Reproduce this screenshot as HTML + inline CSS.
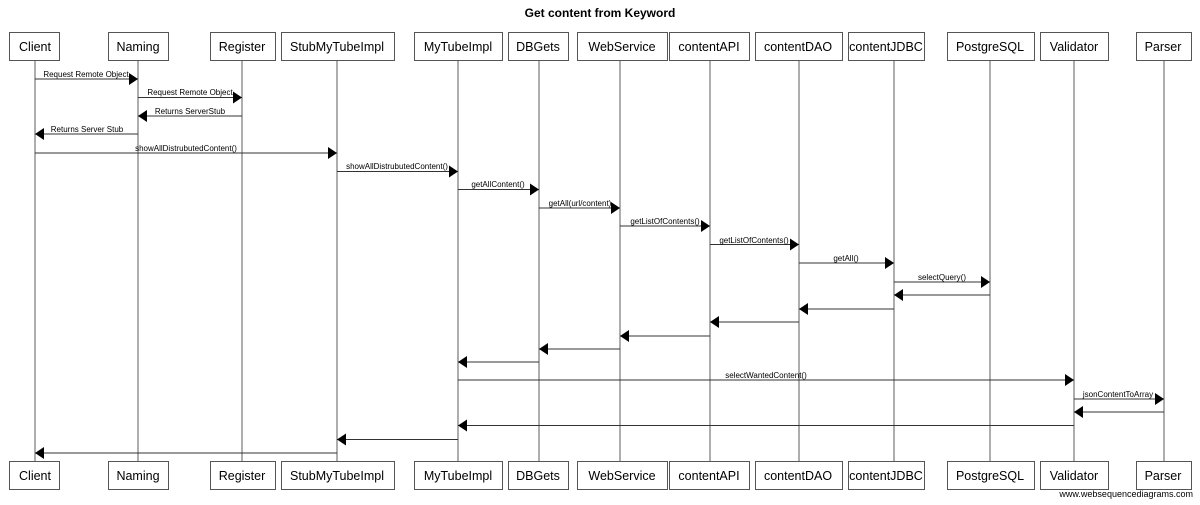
<!DOCTYPE html>
<html><head><meta charset="utf-8"><style>
html,body{margin:0;padding:0;background:#fff;}
svg{display:block;font-family:"Liberation Sans",Arial,sans-serif;}
</style></head><body>
<svg width="1200" height="505" viewBox="0 0 1200 505" xmlns="http://www.w3.org/2000/svg">
<defs>
<marker id="a" markerWidth="10" markerHeight="12" refX="9" refY="6" orient="auto" markerUnits="userSpaceOnUse">
<path d="M0,0 L9,6 L0,12 Z" fill="#000"/></marker>
</defs>
<text x="600" y="17" font-size="12" font-weight="bold" text-anchor="middle">Get content from Keyword</text>
<g stroke="#777" stroke-width="1.2">
<line x1="35" y1="60" x2="35" y2="461"/>
<line x1="138" y1="60" x2="138" y2="461"/>
<line x1="242" y1="60" x2="242" y2="461"/>
<line x1="337" y1="60" x2="337" y2="461"/>
<line x1="458" y1="60" x2="458" y2="461"/>
<line x1="539" y1="60" x2="539" y2="461"/>
<line x1="620" y1="60" x2="620" y2="461"/>
<line x1="710" y1="60" x2="710" y2="461"/>
<line x1="799" y1="60" x2="799" y2="461"/>
<line x1="894" y1="60" x2="894" y2="461"/>
<line x1="990" y1="60" x2="990" y2="461"/>
<line x1="1074" y1="60" x2="1074" y2="461"/>
<line x1="1164" y1="60" x2="1164" y2="461"/>
</g>
<g fill="#fff" stroke="#555" stroke-width="1">
<rect x="9.5" y="32.5" width="50" height="28"/><rect x="108.5" y="32.5" width="60" height="28"/>
<rect x="210.5" y="32.5" width="65" height="28"/><rect x="281.5" y="32.5" width="113" height="28"/>
<rect x="414.5" y="32.5" width="88" height="28"/><rect x="508.5" y="32.5" width="60" height="28"/>
<rect x="577.5" y="32.5" width="90" height="28"/><rect x="669.5" y="32.5" width="80" height="28"/>
<rect x="755.5" y="32.5" width="87" height="28"/><rect x="848.5" y="32.5" width="76" height="28"/>
<rect x="947.5" y="32.5" width="87" height="28"/><rect x="1040.5" y="32.5" width="68" height="28"/>
<rect x="1136.5" y="32.5" width="55" height="28"/>
<rect x="9.5" y="461.5" width="50" height="28"/><rect x="108.5" y="461.5" width="60" height="28"/>
<rect x="210.5" y="461.5" width="65" height="28"/><rect x="281.5" y="461.5" width="113" height="28"/>
<rect x="414.5" y="461.5" width="88" height="28"/><rect x="508.5" y="461.5" width="60" height="28"/>
<rect x="577.5" y="461.5" width="90" height="28"/><rect x="669.5" y="461.5" width="80" height="28"/>
<rect x="755.5" y="461.5" width="87" height="28"/><rect x="848.5" y="461.5" width="76" height="28"/>
<rect x="947.5" y="461.5" width="87" height="28"/><rect x="1040.5" y="461.5" width="68" height="28"/>
<rect x="1136.5" y="461.5" width="55" height="28"/>
</g>
<g font-size="12.5" text-anchor="middle">
<text x="35" y="51">Client</text><text x="138" y="51">Naming</text><text x="242" y="51">Register</text>
<text x="337" y="51">StubMyTubeImpl</text><text x="458" y="51">MyTubeImpl</text><text x="538" y="51">DBGets</text>
<text x="622" y="51">WebService</text><text x="709" y="51">contentAPI</text><text x="798" y="51">contentDAO</text>
<text x="886" y="51">contentJDBC</text><text x="990" y="51">PostgreSQL</text><text x="1074" y="51">Validator</text>
<text x="1163" y="51">Parser</text>
<text x="35" y="480">Client</text><text x="138" y="480">Naming</text><text x="242" y="480">Register</text>
<text x="337" y="480">StubMyTubeImpl</text><text x="458" y="480">MyTubeImpl</text><text x="538" y="480">DBGets</text>
<text x="622" y="480">WebService</text><text x="709" y="480">contentAPI</text><text x="798" y="480">contentDAO</text>
<text x="886" y="480">contentJDBC</text><text x="990" y="480">PostgreSQL</text><text x="1074" y="480">Validator</text>
<text x="1163" y="480">Parser</text>
</g>
<g stroke="#333" stroke-width="1" marker-end="url(#a)">
<line x1="35" y1="79" x2="138" y2="79"/>
<line x1="138" y1="97.5" x2="242" y2="97.5"/>
<line x1="242" y1="116" x2="138" y2="116"/>
<line x1="138" y1="134" x2="35" y2="134"/>
<line x1="35" y1="153" x2="337" y2="153"/>
<line x1="337" y1="171.5" x2="458" y2="171.5"/>
<line x1="458" y1="189.5" x2="539" y2="189.5"/>
<line x1="539" y1="208" x2="620" y2="208"/>
<line x1="620" y1="226" x2="710" y2="226"/>
<line x1="710" y1="244.5" x2="799" y2="244.5"/>
<line x1="799" y1="263" x2="894" y2="263"/>
<line x1="894" y1="282" x2="990" y2="282"/>
<line x1="990" y1="295" x2="894" y2="295"/>
<line x1="894" y1="309" x2="799" y2="309"/>
<line x1="799" y1="322" x2="710" y2="322"/>
<line x1="710" y1="336" x2="620" y2="336"/>
<line x1="620" y1="349" x2="539" y2="349"/>
<line x1="539" y1="362" x2="458" y2="362"/>
<line x1="458" y1="380" x2="1074" y2="380"/>
<line x1="1074" y1="399" x2="1164" y2="399"/>
<line x1="1164" y1="412" x2="1074" y2="412"/>
<line x1="1074" y1="425.5" x2="458" y2="425.5"/>
<line x1="458" y1="439.5" x2="337" y2="439.5"/>
<line x1="337" y1="453" x2="35" y2="453"/>
</g>
<g font-size="8" text-anchor="middle">
<text x="86" y="77">Request Remote Object</text>
<text x="190" y="95">Request Remote Object</text>
<text x="190" y="114">Returns ServerStub</text>
<text x="87" y="132">Returns Server Stub</text>
<text x="186" y="151">showAllDistrubutedContent()</text>
<text x="397" y="169">showAllDistrubutedContent()</text>
<text x="498" y="187">getAllContent()</text>
<text x="580" y="206">getAll(url/content)</text>
<text x="665" y="224">getListOfContents()</text>
<text x="754" y="243">getListOfContents()</text>
<text x="846" y="261">getAll()</text>
<text x="942" y="280">selectQuery()</text>
<text x="766" y="378">selectWantedContent()</text>
<text x="1118" y="397">jsonContentToArray</text>
</g>
<text x="1193" y="497" font-size="9" text-anchor="end">www.websequencediagrams.com</text>
</svg>
</body></html>
